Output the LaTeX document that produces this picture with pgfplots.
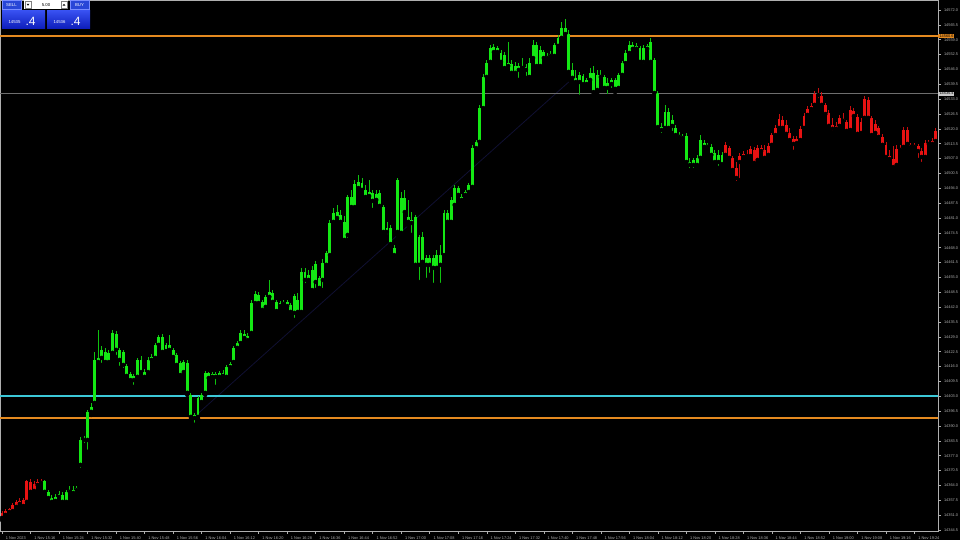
\documentclass[border=0pt]{standalone}
\usepackage{pgfplots}
\pgfplotsset{compat=1.18}
\usepackage{pgfplotstable}
\usepackage{fontspec}
\setmainfont{Liberation Sans}
\definecolor{cgreen}{RGB}{20,232,20}
\definecolor{cgreenw}{RGB}{15,195,15}
\definecolor{cred}{RGB}{232,18,18}
\definecolor{credw}{RGB}{200,14,14}
\definecolor{corange}{RGB}{228,138,32}
\definecolor{ccyan}{RGB}{60,200,215}
\definecolor{caxis}{RGB}{175,175,175}
\definecolor{ctrend}{RGB}{16,16,50}
\definecolor{cbid}{RGB}{110,110,110}
\definecolor{ctag}{RGB}{200,200,200}
\definecolor{btnblue}{RGB}{40,70,215}
\definecolor{btnborder}{RGB}{120,140,255}
\definecolor{boxtop}{RGB}{55,80,240}
\definecolor{boxbot}{RGB}{12,28,185}
\pgfplotstableread{
i o h l c
0 14349.8 14352.8 14348.9 14352.0
1 14351.1 14353.7 14350.2 14352.8
2 14352.4 14354.2 14350.6 14353.7
3 14352.8 14356.3 14352.0 14355.5
4 14354.6 14357.6 14353.3 14356.8
5 14355.9 14358.5 14355.0 14357.2
6 14355.0 14358.5 14354.2 14357.6
7 14356.8 14366.4 14355.5 14366.0
8 14365.5 14366.8 14360.3 14361.2
9 14361.6 14366.0 14361.2 14364.7
10 14364.2 14366.8 14363.3 14365.5
11 14365.1 14366.8 14364.2 14366.0
12 14366.0 14366.4 14360.3 14361.2
13 14361.2 14362.0 14357.6 14358.5
14 14358.5 14359.8 14355.5 14356.8
15 14357.2 14360.3 14356.3 14359.0
16 14359.0 14361.6 14358.1 14360.3
17 14359.8 14361.2 14355.9 14356.8
18 14356.8 14362.0 14355.9 14361.2
19 14361.2 14363.8 14359.8 14362.0
20 14362.0 14363.8 14359.8 14360.7
21 14362.0 14363.8 14360.7 14362.9
22 14373.0 14385.2 14370.8 14383.9
23 14383.9 14385.7 14381.7 14384.8
24 14383.9 14397.0 14378.7 14396.2
25 14396.2 14400.1 14394.8 14398.3
26 14400.1 14422.4 14399.6 14418.9
27 14418.0 14432.0 14416.3 14419.8
28 14419.8 14425.0 14416.7 14423.3
29 14422.4 14424.2 14416.7 14418.0
30 14418.0 14423.3 14416.7 14422.0
31 14422.0 14432.0 14421.1 14430.7
32 14430.3 14431.6 14420.2 14423.3
33 14423.3 14424.2 14415.4 14418.9
34 14422.4 14423.3 14414.5 14416.7
35 14416.3 14417.1 14411.0 14411.9
36 14412.8 14413.6 14408.8 14410.1
37 14411.9 14412.8 14407.1 14410.1
38 14411.5 14419.8 14410.1 14418.9
39 14418.9 14420.6 14412.8 14413.6
40 14413.6 14415.0 14411.0 14411.5
41 14413.6 14420.2 14412.3 14418.9
42 14418.9 14421.5 14418.0 14420.2
43 14419.8 14426.3 14418.9 14425.5
44 14425.5 14429.8 14424.6 14429.0
45 14429.0 14430.3 14421.5 14422.4
46 14422.8 14426.3 14422.0 14425.5
47 14425.5 14429.8 14422.4 14423.3
48 14423.3 14424.2 14419.8 14420.2
49 14421.1 14422.0 14415.8 14416.7
50 14417.6 14418.5 14411.5 14412.3
51 14413.6 14418.9 14412.8 14418.0
52 14417.6 14418.9 14403.6 14404.5
53 14403.6 14404.5 14393.5 14394.0
54 14394.8 14395.7 14390.5 14393.5
55 14394.0 14403.1 14393.1 14402.3
56 14400.5 14404.5 14399.6 14403.6
57 14404.5 14414.1 14403.6 14413.2
58 14413.2 14413.6 14410.1 14411.0
59 14411.5 14413.6 14410.6 14412.8
60 14412.8 14413.6 14407.1 14411.5
61 14411.5 14414.1 14410.6 14413.2
62 14413.2 14414.5 14411.0 14411.9
63 14411.5 14416.7 14410.6 14415.8
64 14415.8 14418.0 14415.0 14417.1
65 14418.0 14425.0 14417.1 14424.2
66 14424.2 14427.2 14423.3 14426.3
67 14426.3 14432.0 14425.5 14430.7
68 14430.3 14432.0 14427.6 14428.5
69 14429.4 14430.7 14426.8 14427.6
70 14430.7 14445.2 14429.8 14443.8
71 14443.8 14449.1 14443.0 14447.8
72 14447.3 14448.7 14443.0 14443.8
73 14444.3 14445.2 14439.9 14440.8
74 14442.1 14447.3 14441.2 14446.5
75 14446.5 14453.9 14445.6 14448.7
76 14448.2 14449.5 14443.0 14444.3
77 14444.3 14445.2 14439.5 14440.3
78 14442.5 14444.7 14441.7 14443.8
79 14443.4 14445.2 14442.5 14444.3
80 14444.3 14445.2 14441.7 14442.5
81 14443.0 14443.8 14438.6 14439.9
82 14439.5 14447.8 14436.4 14446.9
83 14445.2 14448.2 14438.6 14439.9
84 14439.9 14459.2 14439.0 14457.4
85 14457.4 14459.2 14451.7 14453.9
86 14453.9 14458.3 14452.6 14456.1
87 14458.3 14460.0 14448.7 14449.5
88 14453.0 14462.2 14449.5 14460.9
89 14454.8 14455.6 14449.5 14450.4
90 14453.9 14463.1 14449.5 14461.3
91 14460.5 14466.6 14459.2 14465.7
92 14464.8 14480.1 14463.5 14478.8
93 14479.3 14485.4 14478.0 14483.2
94 14481.0 14486.7 14480.1 14483.6
95 14482.3 14484.5 14478.0 14479.3
96 14479.3 14481.9 14470.5 14471.4
97 14473.6 14491.1 14471.4 14490.2
98 14490.2 14493.3 14485.0 14485.8
99 14485.8 14497.6 14485.0 14495.9
100 14494.1 14499.8 14493.3 14496.8
101 14496.3 14498.5 14492.4 14493.3
102 14493.3 14495.5 14489.3 14490.2
103 14490.6 14497.6 14488.9 14492.4
104 14492.0 14493.3 14484.5 14488.5
105 14488.9 14493.3 14487.6 14491.5
106 14492.0 14493.3 14485.4 14486.3
107 14485.8 14486.7 14474.0 14474.9
108 14474.9 14479.3 14473.1 14476.6
109 14476.6 14478.0 14468.8 14469.6
110 14467.9 14469.2 14464.0 14464.8
111 14474.9 14498.5 14473.6 14497.6
112 14489.8 14492.4 14473.6 14474.5
113 14483.6 14493.3 14482.3 14489.8
114 14481.5 14488.9 14478.0 14479.3
115 14480.1 14483.6 14473.6 14478.8
116 14481.5 14482.3 14459.2 14460.5
117 14460.5 14473.6 14453.0 14472.7
118 14472.7 14474.9 14460.5 14461.8
119 14463.5 14464.8 14453.9 14460.5
120 14460.5 14464.8 14456.1 14463.5
121 14463.5 14464.8 14451.7 14459.2
122 14459.2 14467.0 14457.4 14464.8
123 14464.8 14469.2 14451.7 14460.5
124 14464.8 14484.5 14463.5 14483.2
125 14483.2 14484.5 14478.0 14479.3
126 14479.3 14490.2 14478.4 14488.9
127 14486.7 14495.5 14485.8 14494.1
128 14494.1 14495.0 14490.2 14491.1
129 14490.2 14491.5 14488.0 14488.9
130 14491.1 14493.3 14489.8 14492.4
131 14492.4 14496.3 14491.5 14495.5
132 14494.6 14513.0 14493.3 14511.6
133 14511.6 14515.1 14510.8 14514.3
134 14514.3 14530.5 14513.4 14529.1
135 14529.1 14544.0 14528.3 14542.7
136 14542.7 14550.1 14541.4 14548.8
137 14549.3 14556.7 14548.0 14555.4
138 14553.6 14557.1 14552.3 14555.8
139 14555.4 14556.3 14551.9 14553.6
140 14553.2 14554.5 14548.4 14549.3
141 14552.3 14553.6 14545.8 14546.6
142 14548.8 14558.0 14546.6 14547.5
143 14548.4 14550.1 14543.6 14544.5
144 14544.5 14549.3 14543.1 14547.5
145 14547.5 14548.8 14541.4 14545.8
146 14546.6 14551.0 14544.9 14547.1
147 14547.1 14548.4 14542.3 14545.8
148 14542.7 14551.0 14541.0 14548.8
149 14551.0 14558.9 14550.1 14556.7
150 14556.7 14558.0 14546.6 14547.5
151 14547.5 14556.3 14546.6 14554.5
152 14553.6 14554.5 14549.3 14551.0
153 14551.0 14553.2 14550.1 14551.9
154 14551.9 14554.1 14551.0 14552.8
155 14551.9 14557.6 14551.0 14556.7
156 14556.3 14561.1 14555.0 14559.8
157 14559.8 14566.8 14558.9 14564.1
158 14564.1 14568.1 14560.6 14561.5
159 14561.5 14563.3 14544.0 14544.9
160 14545.8 14548.8 14541.4 14542.3
161 14542.3 14545.8 14539.2 14540.5
162 14540.5 14544.9 14534.0 14543.6
163 14543.1 14544.0 14538.8 14539.6
164 14539.6 14542.3 14537.9 14541.4
165 14541.4 14546.6 14540.5 14544.5
166 14544.5 14547.5 14535.3 14536.1
167 14537.0 14545.8 14535.7 14543.6
168 14543.6 14545.8 14541.8 14542.7
169 14542.7 14543.6 14537.0 14537.9
170 14537.9 14542.3 14534.4 14540.1
171 14539.6 14542.3 14537.0 14541.4
172 14541.4 14542.3 14536.1 14537.5
173 14537.9 14544.5 14537.0 14543.6
174 14543.6 14549.7 14542.7 14548.8
175 14548.8 14554.5 14548.0 14553.2
176 14553.2 14558.5 14551.5 14556.7
177 14556.7 14558.0 14553.6 14555.0
178 14555.0 14557.6 14553.6 14556.3
179 14555.4 14556.3 14548.4 14549.3
180 14549.3 14556.7 14547.5 14555.4
181 14555.0 14557.1 14553.6 14556.3
182 14549.3 14559.8 14548.4 14558.0
183 14550.1 14551.0 14534.8 14535.7
184 14535.7 14536.6 14519.5 14520.8
185 14520.8 14522.6 14517.3 14519.5
186 14520.4 14530.5 14519.1 14527.4
187 14527.4 14529.1 14519.1 14520.4
188 14521.3 14526.1 14518.2 14523.9
189 14520.4 14521.7 14516.5 14517.3
190 14517.3 14518.6 14515.6 14516.5
191 14516.9 14517.8 14515.1 14516.0
192 14516.9 14518.2 14504.2 14505.5
193 14505.5 14507.3 14502.0 14504.2
194 14504.2 14507.3 14502.0 14506.4
195 14504.2 14508.6 14502.9 14507.3
196 14507.3 14517.3 14506.4 14515.1
197 14513.8 14515.1 14510.8 14512.1
198 14512.1 14513.8 14510.8 14513.0
199 14512.1 14513.4 14507.7 14508.6
200 14509.5 14510.8 14504.2 14505.5
201 14505.5 14510.8 14502.9 14508.6
202 14508.6 14509.9 14503.8 14504.6
203 14508.6 14514.3 14507.3 14513.0
204 14511.6 14512.5 14506.4 14507.3
205 14507.3 14508.1 14501.1 14502.0
206 14502.9 14505.5 14496.3 14498.5
207 14505.5 14509.5 14497.6 14508.1
208 14507.7 14510.3 14506.4 14509.0
209 14509.0 14510.8 14507.3 14508.1
210 14508.1 14512.5 14507.7 14511.2
211 14510.8 14512.1 14504.2 14505.1
212 14506.4 14513.0 14505.5 14511.6
213 14511.6 14513.0 14509.0 14510.3
214 14510.8 14513.0 14506.4 14507.3
215 14508.6 14513.8 14507.7 14512.5
216 14513.0 14518.2 14512.1 14517.3
217 14517.3 14521.7 14516.5 14520.4
218 14520.4 14526.5 14519.5 14524.3
219 14523.9 14525.6 14518.6 14520.4
220 14521.7 14523.9 14516.9 14517.8
221 14518.2 14520.4 14514.3 14515.1
222 14515.6 14516.9 14509.9 14513.4
223 14513.8 14516.9 14513.0 14515.6
224 14515.1 14521.3 14513.4 14520.0
225 14520.4 14527.0 14519.5 14525.6
226 14526.1 14530.0 14525.2 14528.7
227 14528.7 14531.3 14527.4 14530.0
228 14530.5 14536.6 14529.6 14535.3
229 14535.3 14537.9 14532.6 14534.8
230 14534.4 14536.1 14529.1 14530.5
231 14530.5 14531.3 14525.6 14526.5
232 14527.0 14528.3 14520.4 14521.3
233 14521.7 14524.8 14518.2 14520.0
234 14520.0 14523.0 14518.6 14521.3
235 14521.3 14526.1 14520.8 14524.8
236 14524.3 14527.0 14522.1 14523.5
237 14523.0 14523.9 14518.2 14519.1
238 14519.5 14530.0 14518.6 14528.3
239 14527.8 14529.1 14523.9 14525.6
240 14525.2 14526.5 14516.5 14517.8
241 14518.2 14524.8 14516.9 14523.0
242 14524.8 14534.4 14523.9 14533.1
243 14532.6 14534.0 14523.9 14524.8
244 14524.8 14525.6 14516.0 14517.3
245 14518.2 14523.9 14517.3 14522.1
246 14520.4 14521.3 14515.6 14516.5
247 14516.5 14517.8 14512.1 14513.0
248 14513.0 14514.3 14506.4 14507.7
249 14508.1 14510.8 14505.5 14506.8
250 14506.8 14512.5 14502.0 14503.3
251 14504.2 14513.0 14503.3 14511.2
252 14510.8 14513.0 14509.5 14511.6
253 14512.1 14520.8 14511.2 14519.5
254 14519.5 14520.8 14512.5 14513.4
255 14513.0 14513.8 14511.2 14512.1
256 14512.1 14513.8 14510.8 14513.0
257 14512.5 14513.4 14506.4 14510.3
258 14510.3 14511.6 14504.6 14507.7
259 14507.7 14515.1 14506.8 14513.8
260 14513.8 14515.1 14512.1 14513.4
261 14513.4 14516.0 14512.5 14514.7
262 14514.7 14520.4 14513.4 14519.1
}\candles

\pgfplotsset{
  wick/.style={only marks, mark=none, forget plot,
    error bars/y dir=plus, error bars/y explicit, error bars/error mark=none,
    error bars/error bar style={line width=0.9pt, draw=#1}},
  body/.style={only marks, mark=none, forget plot,
    error bars/y dir=plus, error bars/y explicit, error bars/error mark=none,
    error bars/error bar style={line width=2.9pt, draw=#1}},
}

\begin{document}
\begin{tikzpicture}[x=1pt,y=1pt]
\fill[black] (0,0) rectangle (960,540);
\begin{axis}[
  at={(0pt,9pt)}, anchor=south west,
  scale only axis, width=938pt, height=531pt,
  xmin=-0.56, xmax=262.6, ymin=14344.06, ymax=14576.375,
  clip mode=individual,
  axis line style={caxis, line width=0.6pt},
  tick align=outside, major tick length=3pt,
  tick style={caxis, line width=0.5pt},
  xtick pos=bottom, ytick pos=right, yticklabel pos=right,
  xtick={0,8,...,256},
  xticklabels={1 Nov 2023,1 Nov 15:16,1 Nov 15:24,1 Nov 15:32,1 Nov 15:40,1 Nov 15:48,1 Nov 15:56,1 Nov 16:04,1 Nov 16:12,1 Nov 16:20,1 Nov 16:28,1 Nov 16:36,1 Nov 16:44,1 Nov 16:52,1 Nov 17:00,1 Nov 17:08,1 Nov 17:16,1 Nov 17:24,1 Nov 17:32,1 Nov 17:40,1 Nov 17:48,1 Nov 17:56,1 Nov 18:04,1 Nov 18:12,1 Nov 18:20,1 Nov 18:28,1 Nov 18:36,1 Nov 18:44,1 Nov 18:52,1 Nov 19:00,1 Nov 19:08,1 Nov 19:16,1 Nov 19:24},
  ytick={14344.5,14351.0,14357.5,14364.0,14370.5,14377.0,14383.5,14390.0,14396.5,14403.0,14409.5,14416.0,14422.5,14429.0,14435.5,14442.0,14448.5,14455.0,14461.5,14468.0,14474.5,14481.0,14487.5,14494.0,14500.5,14507.0,14513.5,14520.0,14526.5,14533.0,14539.5,14546.0,14552.5,14559.0,14565.5,14572.0},
  scaled y ticks=false,
  ticklabel style={font=\fontsize{3.9}{4.5}\selectfont, text=caxis},
  xticklabel style={anchor=north west, xshift=0.3pt, yshift=0.5pt},
  yticklabel style={anchor=west, xshift=-0.5pt,
    /pgf/number format/fixed, /pgf/number format/fixed zerofill,
    /pgf/number format/precision=1, /pgf/number format/1000 sep={},
    /pgf/number format/assume math mode=true},
]
% trend line and horizontal levels
\addplot[ctrend, line width=0.8pt, forget plot] coordinates {(53.6,14393.5) (159,14540.5)};
\addplot[cbid, line width=0.7pt, forget plot] coordinates {(-1,14535.4) (264,14535.4)};
\addplot[ccyan, line width=1.8pt, forget plot] coordinates {(-1,14403.0) (264,14403.0)};
\addplot[corange, line width=2pt, forget plot] coordinates {(-1,14560.6) (264,14560.6)};
\addplot[corange, line width=2pt, forget plot] coordinates {(-1,14393.4) (264,14393.4)};
% wicks
\addplot[wick=credw, restrict x to domain=0:11] table[x=i, y=l, y error plus expr={\thisrow{h}-\thisrow{l}}] {\candles};
\addplot[wick=cgreenw, restrict x to domain=12:202] table[x=i, y=l, y error plus expr={\thisrow{h}-\thisrow{l}}] {\candles};
\addplot[wick=credw, restrict x to domain=203:262] table[x=i, y=l, y error plus expr={\thisrow{h}-\thisrow{l}}] {\candles};
% bodies
\addplot[body=cred, restrict x to domain=0:11] table[x=i, y expr={min(\thisrow{o},\thisrow{c})}, y error plus expr={max(abs(\thisrow{c}-\thisrow{o}),0.4)}] {\candles};
\addplot[body=cgreen, restrict x to domain=12:202] table[x=i, y expr={min(\thisrow{o},\thisrow{c})}, y error plus expr={max(abs(\thisrow{c}-\thisrow{o}),0.4)}] {\candles};
\addplot[body=cred, restrict x to domain=203:262] table[x=i, y expr={min(\thisrow{o},\thisrow{c})}, y error plus expr={max(abs(\thisrow{c}-\thisrow{o}),0.4)}] {\candles};
% price tags on the right scale
\node[fill=corange, text=black, inner sep=0.7pt, anchor=west, font=\fontsize{3.9}{4.5}\selectfont] at (axis cs:262.6,14560.6) {\,14560.6};
\node[fill=ctag, text=black, inner sep=0.7pt, anchor=west, font=\fontsize{3.9}{4.5}\selectfont] at (axis cs:262.6,14535.4) {\,14535.4};
\end{axis}
% one-click trading panel
\begin{scope}[font=\fontsize{4.3}{5}\selectfont]
\fill[btnblue] (2,531) rectangle (21,539.5);
\draw[btnborder, line width=0.4pt] (2,531) rectangle (21,539.5);
\node[white] at (11.5,535.3) {SELL};
\fill[white] (24,531) rectangle (68,539.5);
\draw[gray, line width=0.3pt] (25,532) rectangle (31,538.5);
\fill[black] (26.6,536.2) -- (29.4,536.2) -- (28,534.3) -- cycle;
\draw[gray, line width=0.3pt] (61,532) rectangle (67,538.5);
\fill[black] (62.6,534.3) -- (65.4,534.3) -- (64,536.2) -- cycle;
\node[black] at (46,535.3) {5.00};
\fill[btnblue] (70,531) rectangle (89,539.5);
\draw[btnborder, line width=0.4pt] (70,531) rectangle (89,539.5);
\node[white] at (79.5,535.3) {BUY};
\shade[top color=boxtop, bottom color=boxbot] (2,511) rectangle (45,529);
\shade[top color=boxtop, bottom color=boxbot] (47,511) rectangle (90,529);
\node[white, anchor=west] at (5,517.5) {14535};
\node[white, anchor=west, font=\fontsize{12}{12}\selectfont] at (22,519) {.4};
\node[white, anchor=west] at (50,517.5) {14536};
\node[white, anchor=west, font=\fontsize{12}{12}\selectfont] at (67,519) {.4};
\end{scope}
\pgfresetboundingbox
\useasboundingbox (0,0) rectangle (960,540);
\end{tikzpicture}
\end{document}
